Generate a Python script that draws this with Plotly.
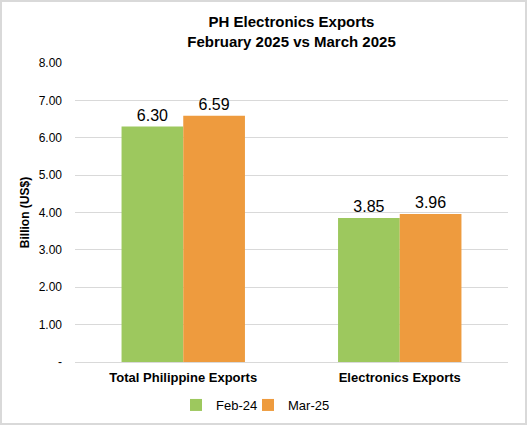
import plotly.graph_objects as go

# chart data
categories = ["Total Philippine Exports", "Electronics Exports"]
feb_values = [6.30, 3.85]
mar_values = [6.59, 3.96]
series_names = ["Feb-24", "Mar-25"]
tick_vals = [0, 1, 2, 3, 4, 5, 6, 7, 8]
tick_text = ["-", "1.00", "2.00", "3.00", "4.00", "5.00", "6.00", "7.00", "8.00"]

FONT = "Liberation Sans, Arial, sans-serif"

fig = go.Figure()

fig.add_trace(go.Bar(
    x=categories, y=feb_values, name=series_names[0],
    marker=dict(color="#9DC85E", line=dict(width=0)),
    text=[f"{v:.2f}" for v in feb_values],
    textposition="outside",
    textfont=dict(size=16, color="#000000", family=FONT),
    cliponaxis=False,
    showlegend=True,
    legend="legend"
))
fig.add_trace(go.Bar(
    x=categories, y=mar_values, name=series_names[1],
    marker=dict(color="#EE9B3E", line=dict(width=0)),
    text=[f"{v:.2f}" for v in mar_values],
    textposition="outside",
    textfont=dict(size=16, color="#000000", family=FONT),
    cliponaxis=False,
    showlegend=True,
    legend="legend2"
))

# two separate legends so the entries can sit close together like the original
legend_style = dict(
    orientation="h", xanchor="left", xref="paper",
    y=1 - 405 / 425, yanchor="middle", yref="container",
    font=dict(size=13, family=FONT, color="#000000"),
    itemwidth=30, bgcolor="rgba(0,0,0,0)",
)

fig.update_layout(
    width=527, height=425,
    autosize=False,
    showlegend=True,
    margin=dict(l=75, r=19, t=63, b=63, autoexpand=False),
    paper_bgcolor="white",
    plot_bgcolor="white",
    barmode="group",
    bargap=0.43,
    bargroupgap=0,
    font=dict(family=FONT, color="#000000"),
    title=dict(
        text="<b>PH Electronics Exports<br>February 2025 vs March 2025</b>",
        x=0.5, xanchor="center", xref="paper",
        y=1 - 27 / 425, yanchor="middle", yref="container",
        font=dict(size=15, family=FONT, color="#000000")
    ),
    xaxis=dict(
        tickfont=dict(size=13, family=FONT, color="#000000"),
        tickprefix="<b>", ticksuffix="</b>",
        showgrid=False, showline=False, ticks="",
        ticklabelstandoff=6,
        automargin=False,
    ),
    yaxis=dict(
        range=[0, 8],
        tickvals=tick_vals, ticktext=tick_text,
        tickfont=dict(size=12, family=FONT, color="#000000"),
        showgrid=True, gridcolor="#D9D9D9", gridwidth=1,
        zeroline=True, zerolinecolor="#D9D9D9", zerolinewidth=1,
        ticks="", ticklen=0,
        ticklabelstandoff=12,
        automargin=False,
        title=dict(text="<b>Billion (US$)</b>", font=dict(size=12, family=FONT, color="#000000"), standoff=6),
    ),
    legend=dict(x=(176 - 75) / 433, visible=True, **legend_style),
    legend2=dict(x=(248 - 75) / 433, visible=True, **legend_style),
    shapes=[dict(
        type="rect", xref="paper", yref="paper",
        x0=-74 / 433, x1=1 + 18 / 433, y0=-62 / 299, y1=1 + 62 / 299,
        line=dict(color="#D9D9D9", width=2), fillcolor="rgba(0,0,0,0)"
    )]
)

fig.write_html(
    "out.html",
    config={"displayModeBar": False},
    post_script="document.body.style.margin='0';",
)
